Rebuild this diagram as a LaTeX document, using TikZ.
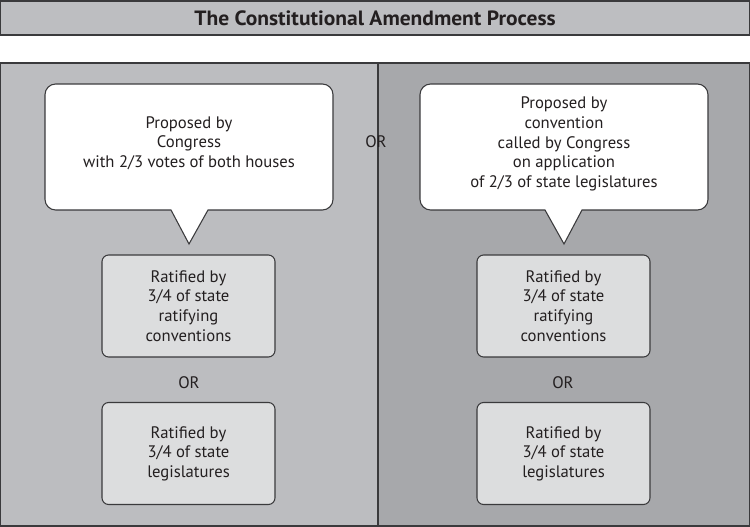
\documentclass[tikz,border=0pt]{standalone}
\usepackage{fontspec}
\setmainfont{PT Sans}
\newfontfamily\titlefont[FakeStretch=1.04]{PT Sans}
\definecolor{titlegray}{HTML}{BDBEC1}
\definecolor{leftgray}{HTML}{BCBDC0}
\definecolor{rightgray}{HTML}{A7A8AB}
\definecolor{boxgray}{HTML}{DCDDDE}
\definecolor{edge}{HTML}{3A3A3C}
\definecolor{ink}{HTML}{231F20}
\begin{document}
\begin{tikzpicture}[x=0.75pt,y=-0.75pt,
  panel/.style={draw=edge,line width=0.9pt},
  callout/.style={draw=edge,fill=white,line width=0.8pt},
  txt/.style={align=center,font=\fontsize{12.5}{14.7}\selectfont,text=ink,inner sep=0pt},
  ratbox/.style={draw=edge,fill=boxgray,line width=0.8pt,rounded corners=5pt,
     minimum width=173*0.75pt,minimum height=102*0.75pt,align=center,
     font=\fontsize{12.5}{14.7}\selectfont,text=ink,inner sep=0pt}]
\useasboundingbox (0,0) rectangle (750,527);
% title
\draw[panel,fill=titlegray] (0.6,1) rectangle (749.4,35);
\node[font=\titlefont\bfseries\fontsize{15.5}{18}\selectfont,text=ink] (title) at (375,18) {The Constitutional Amendment Process};
% panels
\draw[panel,fill=leftgray] (0.6,63) rectangle (378,526);
\draw[panel,fill=rightgray] (378,63) rectangle (749.4,526);
% callouts
\draw[callout] (189,244) -- (171,210) [rounded corners=8pt] -- (45,210) -- (45,84) -- (333,84) -- (333,210) [sharp corners] -- (208,210) -- cycle;
\node[txt] (propA) at (189,143) {Proposed by\\Congress\\with 2/3 votes of both houses};
\draw[callout] (564,244) -- (545,210) [rounded corners=8pt] -- (420,210) -- (420,84) -- (708,84) -- (708,210) [sharp corners] -- (582,210) -- cycle;
\node[txt] (propB) at (564,144) {Proposed by\\convention\\called by Congress\\on application\\of 2/3 of state legislatures};
\node[txt] (orTop) at (376,142) {OR};
% ratification boxes
\node[ratbox] (ratA1) at (188.5,306) {Ratified by\\3/4 of state\\ratifying\\conventions};
\node[txt] (orA) at (189,383) {OR};
\node[ratbox] (ratA2) at (188.5,453.5) {Ratified by\\3/4 of state\\legislatures};
\node[ratbox] (ratB1) at (563.5,306) {Ratified by\\3/4 of state\\ratifying\\conventions};
\node[txt] (orB) at (563,383) {OR};
\node[ratbox] (ratB2) at (563.5,453.5) {Ratified by\\3/4 of state\\legislatures};
\end{tikzpicture}
\end{document}
